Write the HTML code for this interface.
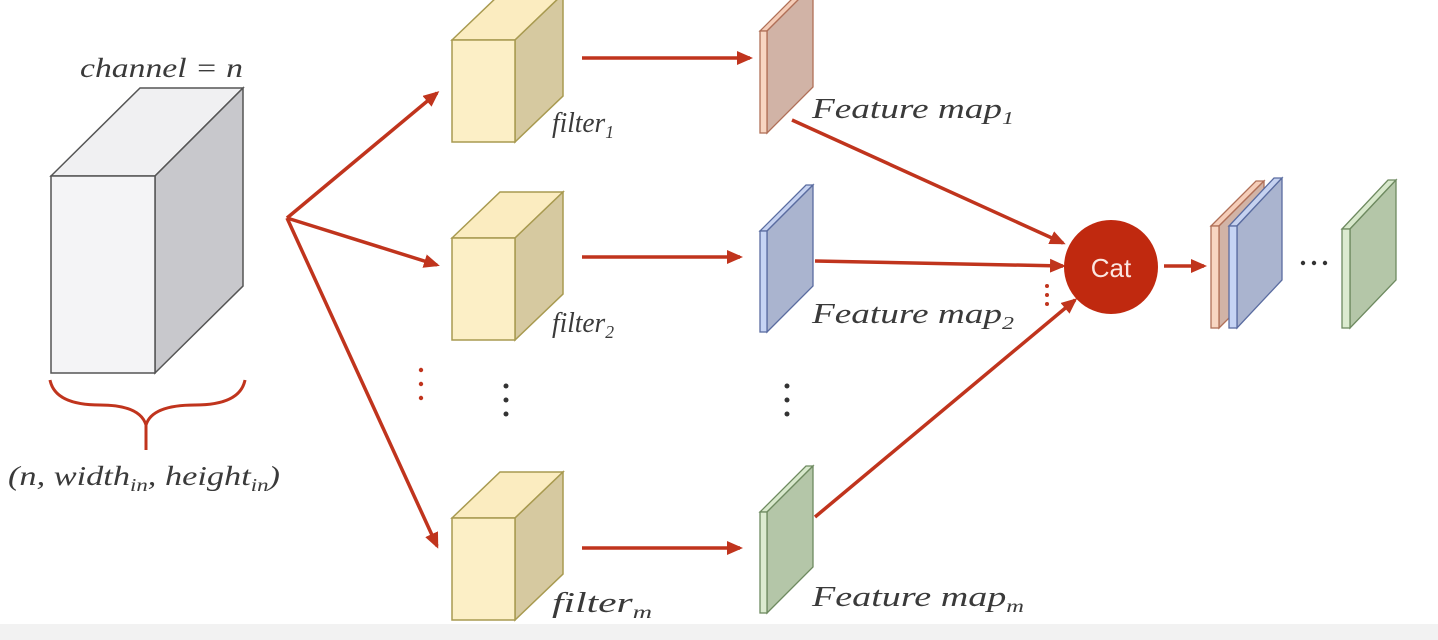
<!DOCTYPE html>
<html><head><meta charset="utf-8"><style>
html,body{margin:0;padding:0;background:#fff;}
svg{display:block;}
text{font-family:"Liberation Serif",serif;font-style:italic;fill:#3a3a3a;}
</style></head><body>
<svg width="1438" height="640" viewBox="0 0 1438 640" xmlns="http://www.w3.org/2000/svg">
<defs>
<marker id="ah" markerWidth="16" markerHeight="14" refX="13" refY="7" orient="auto" markerUnits="userSpaceOnUse" viewBox="0 0 16 14">
<path d="M0,0 L16,7 L0,14 z" fill="#c0341d"/></marker>
</defs>
<rect x="0" y="624" width="1438" height="16" fill="#f2f2f2"/>
<!-- big cube -->
<polygon points="51,176 140,88 243,88 155,176" fill="#f0f0f2" stroke="#555" stroke-width="1.5"/>
<polygon points="155,176 243,88 243,286 155,373" fill="#c8c8cc" stroke="#555" stroke-width="1.5"/>
<rect x="51" y="176" width="104" height="197" fill="#f4f4f6" stroke="#555" stroke-width="1.5"/>
<text x="80" y="77" font-size="27" textLength="163" lengthAdjust="spacingAndGlyphs">channel = n</text>
<path d="M50,380 Q55,405 100,405 Q140,405 146,425 Q152,405 195,405 Q240,405 245,380 M146,425 L146,450" fill="none" stroke="#c0341d" stroke-width="3"/>
<text x="8" y="485" font-size="27" textLength="272" lengthAdjust="spacingAndGlyphs">(n, width<tspan font-size="18" dy="6">in</tspan><tspan dy="-6">, height</tspan><tspan font-size="18" dy="6">in</tspan><tspan dy="-6">)</tspan></text>
<!-- filters -->
<g stroke="#a89a50" stroke-width="1.5">
<g><polygon points="452,40 500,-6 563,-6 515,40" fill="#fbecc0"/><polygon points="515,40 563,-6 563,96 515,142" fill="#d6c9a0"/><rect x="452" y="40" width="63" height="102" fill="#fcefc6"/></g>
<g><polygon points="452,238 500,192 563,192 515,238" fill="#fbecc0"/><polygon points="515,238 563,192 563,294 515,340" fill="#d6c9a0"/><rect x="452" y="238" width="63" height="102" fill="#fcefc6"/></g>
<g><polygon points="452,518 500,472 563,472 515,518" fill="#fbecc0"/><polygon points="515,518 563,472 563,574 515,620" fill="#d6c9a0"/><rect x="452" y="518" width="63" height="102" fill="#fcefc6"/></g>
</g>
<text x="552" y="132" font-size="28" textLength="62" lengthAdjust="spacingAndGlyphs">filter<tspan font-size="18" dy="6">1</tspan></text>
<text x="552" y="332" font-size="28" textLength="62" lengthAdjust="spacingAndGlyphs">filter<tspan font-size="18" dy="6">2</tspan></text>
<text x="552" y="612" font-size="28" textLength="100" lengthAdjust="spacingAndGlyphs">filter<tspan font-size="18" dy="6">m</tspan></text>
<!-- feature maps -->
<g stroke-width="1.3">
<g stroke="#b07058"><polygon points="760,31 806,-15 813,-15 767,31" fill="#f5cdb8"/><polygon points="767,31 813,-15 813,87 767,133" fill="#d1b3a6"/><rect x="760" y="31" width="7" height="102" fill="#f8d6c2"/></g>
<g stroke="#5a6ca0"><polygon points="760,231 806,185 813,185 767,231" fill="#c6d2f0"/><polygon points="767,231 813,185 813,286 767,332" fill="#aab4cf"/><rect x="760" y="231" width="7" height="101" fill="#c6d4f4"/></g>
<g stroke="#6e8a60"><polygon points="760,512 806,466 813,466 767,512" fill="#d8e8cc"/><polygon points="767,512 813,466 813,567 767,613" fill="#b4c6a8"/><rect x="760" y="512" width="7" height="101" fill="#dcebd0"/></g>
<g stroke="#b07058"><polygon points="1211,226 1256,181 1264,181 1219,226" fill="#f5cdb8"/><polygon points="1219,226 1264,181 1264,283 1219,328" fill="#d1b3a6"/><rect x="1211" y="226" width="8" height="102" fill="#f8d6c2"/></g>
<g stroke="#5a6ca0"><polygon points="1229,226 1274,178 1282,178 1237,226" fill="#c6d2f0"/><polygon points="1237,226 1282,178 1282,280 1237,328" fill="#aab4cf"/><rect x="1229" y="226" width="8" height="102" fill="#c6d4f4"/></g>
<g stroke="#6e8a60"><polygon points="1342,229 1388,180 1396,180 1350,229" fill="#d8e8cc"/><polygon points="1350,229 1396,180 1396,280 1350,328" fill="#b4c6a8"/><rect x="1342" y="229" width="8" height="99" fill="#dcebd0"/></g>
</g>
<text x="812" y="118" font-size="28" textLength="202" lengthAdjust="spacingAndGlyphs">Feature map<tspan font-size="18" dy="6">1</tspan></text>
<text x="812" y="323" font-size="28" textLength="202" lengthAdjust="spacingAndGlyphs">Feature map<tspan font-size="18" dy="6">2</tspan></text>
<text x="812" y="606" font-size="28" textLength="212" lengthAdjust="spacingAndGlyphs">Feature map<tspan font-size="18" dy="6">m</tspan></text>
<!-- arrows -->
<g stroke="#c0341d" stroke-width="3.5" fill="none" marker-end="url(#ah)">
<line x1="287" y1="218" x2="437" y2="93"/>
<line x1="287" y1="218" x2="437" y2="265"/>
<line x1="287" y1="218" x2="437" y2="546"/>
<line x1="582" y1="58" x2="750" y2="58"/>
<line x1="582" y1="257" x2="740" y2="257"/>
<line x1="582" y1="548" x2="740" y2="548"/>
<line x1="792" y1="120" x2="1063" y2="243"/>
<line x1="815" y1="261" x2="1063" y2="266"/>
<line x1="815" y1="517" x2="1075" y2="300"/>
<line x1="1164" y1="266" x2="1204" y2="266"/>
</g>
<circle cx="1111" cy="267" r="47" fill="#c0290f"/>
<text x="1111" y="277" font-size="26" text-anchor="middle" style="font-family:'Liberation Sans',sans-serif;font-style:normal;fill:#fbe6e0">Cat</text>
<!-- dots -->
<g fill="#c0341d"><circle cx="421" cy="370" r="2.2"/><circle cx="421" cy="384" r="2.2"/><circle cx="421" cy="398" r="2.2"/>
<circle cx="1047" cy="286" r="2"/><circle cx="1047" cy="295" r="2"/><circle cx="1047" cy="304" r="2"/></g>
<g fill="#333"><circle cx="506" cy="386" r="2.5"/><circle cx="506" cy="400" r="2.5"/><circle cx="506" cy="414" r="2.5"/>
<circle cx="787" cy="386" r="2.5"/><circle cx="787" cy="400" r="2.5"/><circle cx="787" cy="414" r="2.5"/>
<circle cx="1303" cy="263" r="2.2"/><circle cx="1314" cy="263" r="2.2"/><circle cx="1325" cy="263" r="2.2"/></g>
</svg>
</body></html>
